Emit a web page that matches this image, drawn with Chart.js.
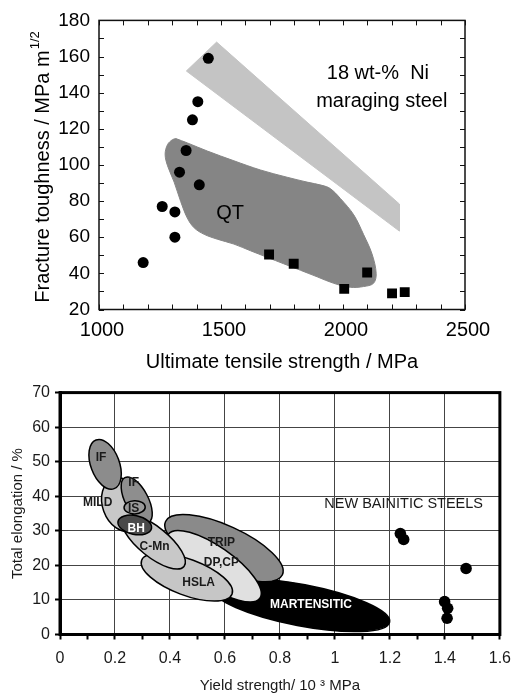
<!DOCTYPE html>
<html><head><meta charset="utf-8">
<script src="https://cdn.jsdelivr.net/npm/chart.js@4.4.1/dist/chart.umd.min.js"></script>
<style>
html,body{margin:0;padding:0;background:#fff;}
#wrap{width:520px;height:695px;position:relative;overflow:hidden;}
#c1{position:absolute;left:0;top:0;}
#c2{position:absolute;left:0;top:378px;}
</style></head><body>
<div id="wrap">
<canvas id="c1" width="520" height="378"></canvas>
<canvas id="c2" width="520" height="317"></canvas>
</div>
<script>
// ---------- Top chart data: fracture toughness vs UTS ----------
const circleUTS = [1181, 1259, 1311, 1311, 1330, 1357, 1411, 1383, 1405, 1448];
const circleKIC = [46, 77, 74, 60, 96, 108, 89, 125, 135, 159];
const squareUTS = [1697, 1798, 2005, 2099, 2201, 2253];
const squareKIC = [50.4, 45.3, 31.4, 40.5, 28.9, 29.6];
const maragingBandUTS = [1358, 1482, 2231, 2231, 1358];
const maragingBandKIC = [152, 168, 78.4, 63.4, 152];
const qtRegionUTS = [1315,1362,1444,1553,1662,1771,1853,1914,1948,1989,2044,2084,2119,2136,2125,2084,2030,1962,1894,1826,1757,1689,1621,1553,1485,1431,1390,1362,1335,1308,1281,1271,1281,1301,1315];
const qtRegionKIC = [114.6,112.2,107.7,102.3,97.2,93.2,90.5,88.7,86.9,81.5,72.4,61.6,50.7,39.9,34.5,32.7,32.3,34.5,38.1,41.7,45.3,48.9,52.5,56.2,58.9,61.6,65.2,70.6,79.7,90.5,99.5,105.9,111.3,114,114.6];
const topXTicks = [1000, 1500, 2000, 2500];
const topYTicks = [20, 40, 60, 80, 100, 120, 140, 160, 180];
const topNotes = ['18 wt-%  Ni', 'maraging steel', 'QT'];
const topNoteUTS = [2143, 2159, 1537];
const topNoteKIC = [150.7, 135, 73.3];

// ---------- Bottom chart data: elongation vs yield strength ----------
const ellipseNames = ['MARTENSITIC', 'TRIP', 'DP,CP', 'HSLA', 'C-Mn', 'MILD', 'IF', 'BH', 'IS', 'IF'];
const ellipseX1 = [0.555, 0.384, 0.394, 0.297, 0.229, 0.193, 0.236, 0.211, 0.233, 0.131];
const ellipseY1 = [13.4, 32.7, 29.0, 21.5, 33.9, 45.1, 45.4, 32.7, 36.7, 56.3];
const ellipseX2 = [1.199, 0.809, 0.727, 0.626, 0.451, 0.261, 0.322, 0.333, 0.310, 0.197];
const ellipseY2 = [3.6, 17.3, 10.5, 11.7, 19.7, 30.1, 32.4, 30.7, 36.9, 42.2];
const ellipseRatio = [0.23, 0.35, 0.35, 0.375, 0.38, 0.72, 0.45, 0.55, 0.62, 0.55];
const ellipseColor = ['#000000', '#8a8a8a', '#e0e0e0', '#c6c6c6', '#c8c8c8', '#c8c8c8', '#8e8e8e', '#4a4a4a', '#9a9a9a', '#8c8c8c'];
const labelNames = ['MARTENSITIC', 'TRIP', 'DP,CP', 'HSLA', 'C-Mn', 'MILD', 'IF', 'BH', 'IS', 'IF'];
const labelX = [0.913, 0.587, 0.587, 0.504, 0.344, 0.137, 0.268, 0.277, 0.268, 0.149];
const labelY = [8.5, 26.7, 20.7, 14.9, 25.3, 38.1, 44.0, 30.6, 36.5, 51.2];
const labelWhite = [true, false, false, false, false, false, false, true, false, false];
const bainiticYS = [1.238, 1.250, 1.477, 1.399, 1.410, 1.408];
const bainiticEl = [29.2, 27.5, 19.1, 9.5, 7.6, 4.7];

const FONT = "'Liberation Sans', Arial, Helvetica, sans-serif";
Chart.defaults.font.family = FONT;
Chart.defaults.color = '#000';
Chart.defaults.animation = false;

function pts(xs, ys) { return xs.map((x, i) => ({ x: x, y: ys[i] })); }
function seg(ctx, x1, y1, x2, y2) { ctx.beginPath(); ctx.moveTo(x1, y1); ctx.lineTo(x2, y2); ctx.stroke(); }

// ---------------- Top chart ----------------
const topDecor = {
  id: 'topDecor',
  afterDraw(chart) {
    const { ctx, chartArea: a, scales: { x, y } } = chart;
    ctx.save();
    ctx.strokeStyle = '#111';
    ctx.lineWidth = 1;
    for (let v = topXTicks[0]; v <= topXTicks[topXTicks.length - 1]; v += 100) {
      const px = Math.round(x.getPixelForValue(v)) + 0.5;
      seg(ctx, px, a.top, px, a.top + 5);
      seg(ctx, px, a.bottom, px, a.bottom - 5);
    }
    for (let v = topYTicks[0]; v <= topYTicks[topYTicks.length - 1]; v += 10) {
      const py = Math.round(y.getPixelForValue(v)) + 0.5;
      seg(ctx, a.left, py, a.left + 5, py);
      seg(ctx, a.right, py, a.right - 5, py);
    }
    ctx.lineWidth = 1.5;
    ctx.strokeRect(a.left, a.top, a.right - a.left, a.bottom - a.top);
    // annotations
    ctx.fillStyle = '#000';
    ctx.font = '20px ' + FONT;
    ctx.textAlign = 'center';
    ctx.textBaseline = 'middle';
    topNotes.forEach((t, i) => ctx.fillText(t, x.getPixelForValue(topNoteUTS[i]), y.getPixelForValue(topNoteKIC[i])));
    // y axis title with superscript
    ctx.translate(43, (a.top + a.bottom) / 2 + 2);
    ctx.rotate(-Math.PI / 2);
    const main = 'Fracture toughness / MPa m', sup = '1/2';
    ctx.font = '20px ' + FONT;
    const w1 = ctx.measureText(main).width;
    ctx.font = '13px ' + FONT;
    const w2 = ctx.measureText(sup).width;
    const start = -(w1 + w2 + 1) / 2;
    ctx.textAlign = 'left';
    ctx.font = '20px ' + FONT;
    ctx.fillText(main, start, 0);
    ctx.font = '13px ' + FONT;
    ctx.fillText(sup, start + w1 + 1, -8);
    ctx.restore();
  }
};

new Chart(document.getElementById('c1'), {
  type: 'scatter',
  data: {
    datasets: [
      { label: 'circles', data: pts(circleUTS, circleKIC), pointStyle: 'circle', pointRadius: 5.5, pointHoverRadius: 5.5,
        backgroundColor: '#000', borderColor: '#000', borderWidth: 0 },
      { label: 'squares', data: pts(squareUTS, squareKIC), pointStyle: 'rect', pointRadius: 7, pointHoverRadius: 7,
        backgroundColor: '#000', borderColor: '#000', borderWidth: 0 },
      { label: 'QT', data: pts(qtRegionUTS, qtRegionKIC), showLine: true, fill: 'shape', tension: 0.35,
        backgroundColor: '#858585', borderColor: '#858585', borderWidth: 1, pointRadius: 0, pointHoverRadius: 0 },
      { label: '18 wt-% Ni maraging steel', data: pts(maragingBandUTS, maragingBandKIC), showLine: true, fill: 'shape', tension: 0,
        backgroundColor: '#c4c4c4', borderColor: '#c4c4c4', borderWidth: 1, pointRadius: 0, pointHoverRadius: 0 }
    ]
  },
  options: {
    responsive: false,
    animation: false,
    events: [],
    layout: { padding: { left: 0, top: 15, right: 55, bottom: 0 } },
    plugins: { legend: { display: false }, tooltip: { enabled: false } },
    scales: {
      x: {
        type: 'linear', min: 1000, max: 2500,
        afterBuildTicks: s => { s.ticks = topXTicks.map(v => ({ value: v })); },
        afterFit: s => { s.height = 68.5; },
        grid: { display: false, drawTicks: false },
        border: { display: false },
        ticks: { font: { size: 20 }, color: '#000', padding: 9, labelOffset: 3, maxRotation: 0, autoSkip: false,
          callback: v => String(v) },
        title: { display: true, text: 'Ultimate tensile strength / MPa', font: { size: 20 }, color: '#000', padding: { top: 4, bottom: 4 } }
      },
      y: {
        type: 'linear', min: 20, max: 180,
        afterBuildTicks: s => { s.ticks = topYTicks.map(v => ({ value: v })); },
        afterFit: s => { s.width = 99; },
        grid: { display: false, drawTicks: false },
        border: { display: false },
        ticks: { font: { size: 19 }, color: '#000', padding: 9, autoSkip: false, callback: v => String(v) }
      }
    }
  },
  plugins: [topDecor]
});

// ---------------- Bottom chart ----------------
const ellipses = {
  id: 'ellipses',
  beforeDatasetsDraw(chart) {
    const { ctx, scales: { x, y } } = chart;
    ctx.save();
    ellipseNames.forEach((n, i) => {
      const x1 = x.getPixelForValue(ellipseX1[i]), y1 = y.getPixelForValue(ellipseY1[i]);
      const x2 = x.getPixelForValue(ellipseX2[i]), y2 = y.getPixelForValue(ellipseY2[i]);
      const cx = (x1 + x2) / 2, cy = (y1 + y2) / 2;
      const a = Math.hypot(x2 - x1, y2 - y1) / 2;
      const ang = Math.atan2(y2 - y1, x2 - x1);
      ctx.beginPath();
      ctx.ellipse(cx, cy, a, a * ellipseRatio[i], ang, 0, Math.PI * 2);
      ctx.fillStyle = ellipseColor[i];
      ctx.fill();
      ctx.lineWidth = 1.5;
      ctx.strokeStyle = '#000';
      ctx.stroke();
    });
    ctx.font = 'bold 12px ' + FONT;
    ctx.textAlign = 'center';
    ctx.textBaseline = 'middle';
    labelNames.forEach((t, i) => {
      ctx.fillStyle = labelWhite[i] ? '#fff' : '#1a1a1a';
      ctx.fillText(t, x.getPixelForValue(labelX[i]), y.getPixelForValue(labelY[i]));
    });
    ctx.font = '14.5px ' + FONT;
    ctx.fillStyle = '#1a1a1a';
    ctx.fillText('NEW BAINITIC STEELS', x.getPixelForValue(1.25), y.getPixelForValue(37.8));
    ctx.restore();
  },
  afterDraw(chart) {
    const { ctx, chartArea: a } = chart;
    ctx.save();
    ctx.strokeStyle = '#000';
    ctx.lineWidth = 3;
    ctx.strokeRect(a.left, a.top, a.right - a.left, a.bottom - a.top);
    ctx.restore();
  }
};

const isMajor = v => Math.round(v * 10) % 2 === 0;

new Chart(document.getElementById('c2'), {
  type: 'scatter',
  data: {
    datasets: [
      { label: 'New bainitic steels', data: pts(bainiticYS, bainiticEl), pointStyle: 'circle', pointRadius: 5.8, pointHoverRadius: 5.8,
        backgroundColor: '#000', borderColor: '#000', borderWidth: 0 }
    ]
  },
  options: {
    responsive: false,
    animation: false,
    events: [],
    layout: { padding: { left: 0, top: 13.5, right: 13, bottom: 0 } },
    plugins: { legend: { display: false }, tooltip: { enabled: false } },
    scales: {
      x: {
        type: 'linear', min: 0, max: 1.6,
        afterFit: s => { s.height = 60.5; },
        grid: {
          color: c => (c.tick && isMajor(c.tick.value)) ? '#444' : 'rgba(0,0,0,0)',
          lineWidth: 1, tickColor: '#000', tickWidth: 2, tickLength: 5, drawTicks: true
        },
        border: { display: true, color: '#000', width: 3 },
        ticks: {
          stepSize: 0.1, autoSkip: false, maxRotation: 0, font: { size: 16 }, color: '#1a1a1a', padding: 9,
          callback: v => isMajor(v) ? String(Math.round(v * 10) / 10) : ''
        },
        title: { display: true, text: 'Yield strength/ 10 ³ MPa', font: { size: 15, lineHeight: 1.2 }, color: '#1a1a1a', padding: { top: 0, bottom: 0 } }
      },
      y: {
        type: 'linear', min: 0, max: 70,
        afterFit: s => { s.width = 60; },
        grid: { color: '#444', lineWidth: 1, tickColor: '#000', tickWidth: 2, tickLength: 5, drawTicks: true },
        border: { display: true, color: '#000', width: 3 },
        ticks: { stepSize: 10, font: { size: 16 }, color: '#1a1a1a', padding: 5, autoSkip: false },
        title: { display: true, text: 'Total elongation / %', font: { size: 15, lineHeight: 1.2 }, color: '#1a1a1a', padding: { top: 9, bottom: 0 } }
      }
    }
  },
  plugins: [ellipses]
});
</script>
</body></html>
